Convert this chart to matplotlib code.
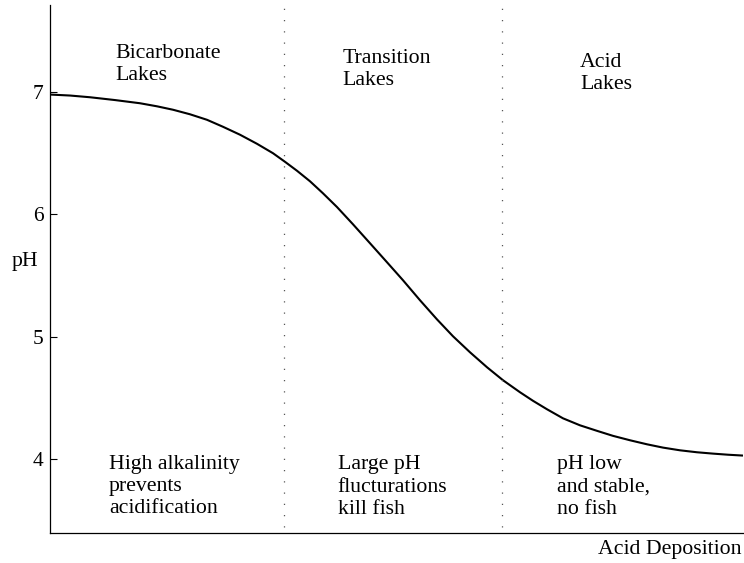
import matplotlib
matplotlib.use("Agg")
import matplotlib.pyplot as plt

# Curve (acid deposition in arbitrary units 0..10, pH)
deposition = [0.000, 0.289, 0.577, 0.938, 1.299, 1.544, 1.775, 2.020, 2.265, 2.496,
              2.742, 2.987, 3.218, 3.391, 3.564, 3.752, 3.939, 4.141, 4.372, 4.618,
              4.863, 5.094, 5.339, 5.584, 5.815, 6.061, 6.306, 6.537, 6.782, 6.970,
              7.172, 7.403, 7.648, 7.893, 8.124, 8.369, 8.615, 8.846, 9.091, 9.336,
              9.567, 9.784, 10.000]
ph = [6.979, 6.971, 6.957, 6.934, 6.908, 6.883, 6.855, 6.818, 6.773, 6.716,
      6.651, 6.577, 6.500, 6.430, 6.357, 6.271, 6.173, 6.061, 5.920, 5.765,
      5.610, 5.463, 5.300, 5.144, 5.006, 4.875, 4.753, 4.647, 4.549, 4.479,
      4.410, 4.336, 4.279, 4.234, 4.193, 4.157, 4.124, 4.097, 4.075, 4.059,
      4.048, 4.039, 4.032]

boundaries = [3.38, 6.52]
yticks = [4, 5, 6, 7]

region_titles = ["Bicarbonate\nLakes", "Transition\nLakes", "Acid\nLakes"]
region_title_pos = [(0.94, 7.096), (4.22, 7.055), (7.65, 7.022)]
region_notes = ["High alkalinity\nprevents\nacidification",
                "Large pH\nflucturations\nkill fish",
                "pH low\nand stable,\nno fish"]
region_note_pos = [(0.85, 3.561), (4.15, 3.558), (7.31, 3.558)]

plt.rcParams['font.family'] = ['Liberation Serif', 'DejaVu Serif']

fig = plt.figure(figsize=(7.44, 5.63), dpi=100)
ax = fig.add_axes([50/744, 1 - 533/563, 693/744, 528/563])

ax.plot(deposition, ph, color='black', linewidth=1.5,
        solid_joinstyle='round', solid_capstyle='butt')

for b in boundaries:
    ax.axvline(b, ymin=0.012, ymax=1.0, color='#555555', linewidth=0.9,
               linestyle=(0, (1, 8)))

for t, (x, y) in zip(region_titles, region_title_pos):
    ax.text(x, y, t, fontsize=15.7, ha='left', va='baseline', linespacing=1.22)
for t, (x, y) in zip(region_notes, region_note_pos):
    ax.text(x, y, t, fontsize=15.7, ha='left', va='baseline', linespacing=1.22)

ax.set_xlim(0, 10)
ax.set_ylim(3.40, 7.71)
ax.set_xticks([])
ax.set_yticks(yticks)
ax.set_yticklabels([str(v) for v in yticks])
ax.tick_params(axis='y', direction='in', length=5, width=0.8, pad=4.5, labelsize=15.5)

for s in ['top', 'right']:
    ax.spines[s].set_visible(False)
for s in ['left', 'bottom']:
    ax.spines[s].set_linewidth(0.9)

ax.text(-0.055, 5.577, 'pH', transform=ax.get_yaxis_transform(), fontsize=15.7,
        ha='left', va='baseline')
ax.text(0.998, -0.040, 'Acid Deposition', transform=ax.transAxes, fontsize=15.7,
        ha='right', va='baseline')

fig.savefig('out.png', dpi=100, facecolor='white')
